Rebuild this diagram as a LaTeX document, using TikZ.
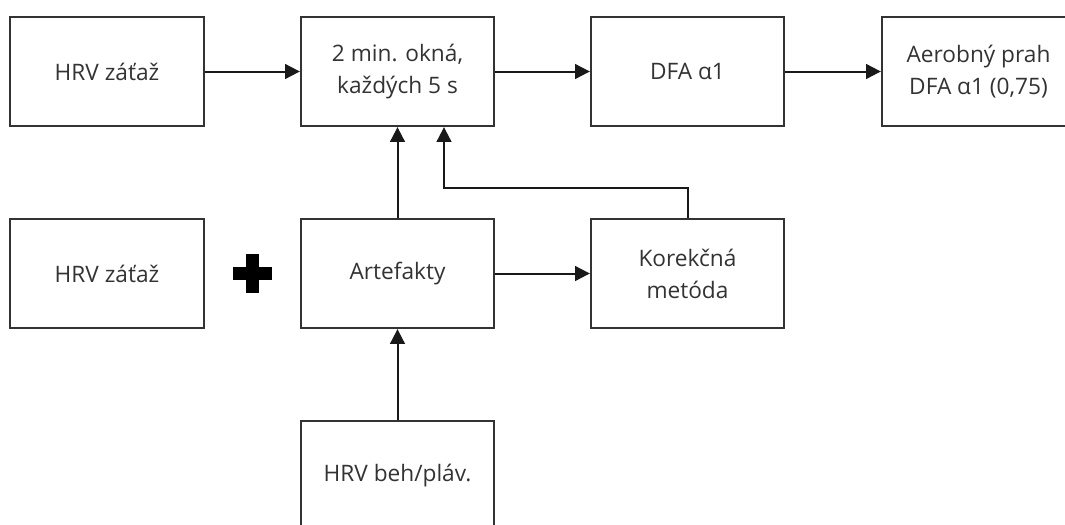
\documentclass[tikz,border=0pt]{standalone}
\usepackage{fontspec}
\setmainfont{Open Sans}
\usetikzlibrary{arrows.meta}

\begin{document}
\begin{tikzpicture}[x=0.75pt,y=-0.75pt,font=\fontsize{17}{24}\selectfont,
    blok/.style={draw=black!80,line width=1.5pt,fill=white,text=black!80,
      minimum width=145pt,minimum height=82pt,inner sep=0pt,align=center},
    sipka/.style={-{Triangle[length=11pt,width=11pt]},line width=1.5pt,draw=black!90}]
    \useasboundingbox (0,0) rectangle (1065,525);
    % horny rad
    \node [blok] (zataz) at (107,71.5) {HRV záťaž};
    \node [blok] (okna) at (397.5,71.5) {2 min. okná,\\každých 5 s};
    \node [blok] (dfa) at (687.5,71.5) {DFA α1};
    \node [blok] (prah) at (978.5,71.5) {Aerobný prah\\DFA α1 (0,75)};
    % stredny rad
    \node [blok] (zatazb) at (107,273.5) {HRV záťaž};
    \node [blok] (artef) at (397.5,273.5) {Artefakty};
    \node [blok] (korek) at (687.5,273.5) {Korekčná\\metóda};
    % spodny rad
    \node [blok] (beh) at (397.5,475.5) {HRV beh/pláv.};
    % znamienko plus
    \coordinate (plus) at (252,273.5);
    \draw [line width=9.75pt,black] (plus) ++(-19.5,0) -- ++(39,0)
          (plus) ++(0,-19.5) -- ++(0,39);
    % sipky
    \draw [sipka] (zataz) -- (okna);
    \draw [sipka] (okna) -- (dfa);
    \draw [sipka] (dfa) -- (prah);
    \draw [sipka] (artef) -- (okna);
    \draw [sipka] (artef) -- (korek);
    \draw [sipka] (beh) -- (artef);
    % spatna vazba z korekcie
    \coordinate (ohyb) at (444,188);
    \draw [sipka] (korek.north) |- (ohyb) -- (ohyb |- okna.south);
\end{tikzpicture}
\end{document}
